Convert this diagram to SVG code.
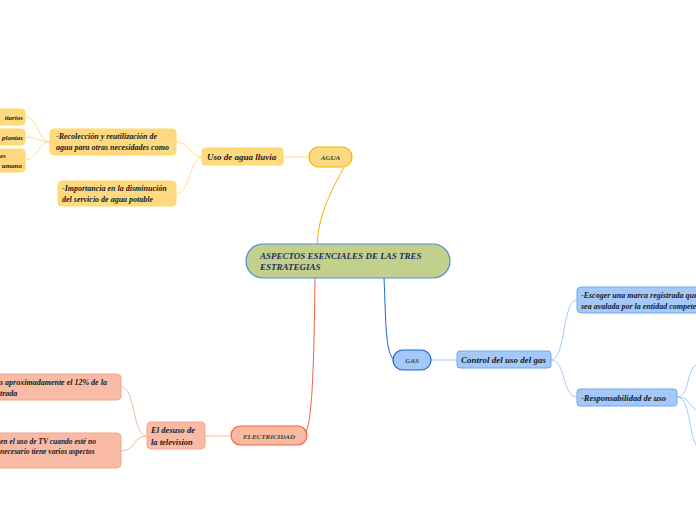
<svg xmlns="http://www.w3.org/2000/svg" width="696" height="520" viewBox="0 0 696 520">
<style>
text{font-family:"Liberation Serif","DejaVu Serif",serif;font-style:italic;font-weight:bold;font-size:8px;fill:#1a1a1a}
.lbl{fill:#1e4d2b;font-size:7px}
.c{fill:none;stroke-width:1}
.y{fill:#ffd97f;stroke:#ffd966;stroke-width:1}
.s{fill:#f9bba6;stroke:#f4a58a;stroke-width:1}
.b{fill:#a4c8f8;stroke:#6fa8f0;stroke-width:1}
</style>
<rect width="696" height="520" fill="#ffffff"/>
<g id="connectors">
<path class="c" stroke="#f5b400" stroke-width="1.3" d="M344,167 C332,190 319,212 317,244"/>
<path class="c" stroke="#f0643c" stroke-width="1.3" d="M315,278 C314,350 313,425 305,433"/>
<path class="c" stroke="#1a66d6" stroke-width="1.3" d="M384,278 C386,320 385,356 395,360"/>
<path class="c" stroke="#ffe08c" d="M309,157 L283,157"/>
<path class="c" stroke="#ffe08c" d="M202,157 C190,157 190,142 176,142"/>
<path class="c" stroke="#ffe08c" d="M202,157 C190,157 190,194 176,194"/>
<path class="c" stroke="#ffe08c" d="M50,142 C38,142 38,117 25,117"/>
<path class="c" stroke="#ffe08c" d="M50,142 C38,142 38,137 25,137"/>
<path class="c" stroke="#ffe08c" d="M50,142 C38,142 38,160 25,160"/>
<path class="c" stroke="#f9b7a0" d="M231,436 L205,436"/>
<path class="c" stroke="#f9b7a0" d="M147,436 C132,436 136,387 121,387"/>
<path class="c" stroke="#f9b7a0" d="M147,436 C132,436 136,451 121,451"/>
<path class="c" stroke="#a4c8f8" d="M431,360 L457,360"/>
<path class="c" stroke="#a4c8f8" d="M551,360 C566,360 562,300 577,300"/>
<path class="c" stroke="#a4c8f8" d="M551,360 C566,360 562,397 577,397"/>
<path class="c" stroke="#a4c8f8" d="M677,397 C690,397 686,370 696,365"/>
<path class="c" stroke="#a4c8f8" d="M677,397 C690,397 688,405 696,410"/>
<path class="c" stroke="#a4c8f8" d="M677,397 C690,397 688,430 696,445"/>
</g>
<g id="central">
<rect x="246" y="244" width="204" height="34" rx="17" fill="#c2d08c" stroke="#4f8fd6" stroke-width="1.2"/>
<text x="260" y="259" style="fill:#1f2d5c;font-size:9px">ASPECTOS ESENCIALES DE LAS TRES</text>
<text x="260" y="270" style="fill:#1f2d5c;font-size:9px">ESTRATEGIAS</text>
</g>
<g id="agua">
<rect x="309" y="147" width="43" height="20" rx="10" fill="#ffd97f" stroke="#f5b400" stroke-width="1.2"/>
<text class="lbl" x="330.5" y="160" text-anchor="middle">AGUA</text>
</g>
<g id="uso-agua">
<rect class="y" x="202" y="148" width="81" height="17" rx="3"/>
<text x="207" y="160" style="font-size:9px">Uso de agua lluvia</text>
</g>
<g id="recoleccion">
<rect class="y" x="50" y="129" width="126" height="26" rx="4"/>
<text x="56" y="139">-Recolección y reutilización de</text>
<text x="56" y="150">agua para otras necesidades como</text>
</g>
<g id="importancia">
<rect class="y" x="58" y="181" width="118" height="25" rx="4"/>
<text x="62" y="191">-Importancia en la disminución</text>
<text x="62" y="202">del servicio de agua potable</text>
</g>
<g id="sanitarios">
<rect class="y" x="-10" y="109" width="35" height="16" rx="4"/>
<text x="23" y="120" text-anchor="end" style="font-size:7px">itarios</text>
</g>
<g id="plantas">
<rect class="y" x="-10" y="129" width="35" height="16" rx="4"/>
<text x="23" y="140" text-anchor="end" style="font-size:7px">plantas</text>
</g>
<g id="humano">
<rect class="y" x="-10" y="149" width="35" height="23" rx="4"/>
<text x="0" y="158" style="font-size:7px">es</text>
<text x="22" y="168" text-anchor="end" style="font-size:7px">umano</text>
</g>
<g id="electricidad">
<rect x="231" y="426" width="76" height="19" rx="9.5" fill="#f9b9a3" stroke="#f0643c" stroke-width="1.2"/>
<text class="lbl" x="269" y="438.5" text-anchor="middle">ELECTRICIDAD</text>
</g>
<g id="desuso">
<rect class="s" x="147" y="422" width="58" height="27" rx="4"/>
<text x="151" y="433" style="font-size:8.5px">El desuso de</text>
<text x="151" y="445" style="font-size:8.5px">la television</text>
</g>
<g id="porcentaje">
<rect class="s" x="-10" y="374" width="131" height="26" rx="4"/>
<text x="0" y="385">s aproximadamente el 12% de la</text>
<text x="0" y="396">trada</text>
</g>
<g id="uso-tv">
<rect class="s" x="-10" y="433" width="131" height="35" rx="4"/>
<text x="0" y="444" style="font-size:7.5px">en el uso de TV cuando esté no</text>
<text x="0" y="454" style="font-size:7.5px">necesario tiene varios aspectos</text>
</g>
<g id="gas">
<rect x="393" y="350" width="38" height="20" rx="10" fill="#a4c8f8" stroke="#1a66d6" stroke-width="1.2"/>
<text class="lbl" x="412" y="363" text-anchor="middle">GAS</text>
</g>
<g id="control-gas">
<rect class="b" x="457" y="351" width="94" height="17" rx="3"/>
<text x="461" y="363" style="font-size:9px">Control del uso del gas</text>
</g>
<g id="escoger">
<rect class="b" x="577" y="287" width="130" height="26" rx="4"/>
<text x="581" y="298">-Escoger una marca registrada que</text>
<text x="581" y="309">sea avalada por la entidad competente</text>
</g>
<g id="responsabilidad">
<rect class="b" x="577" y="389" width="100" height="17" rx="3"/>
<text x="581" y="401" style="font-size:8.5px">-Responsabilidad de uso</text>
</g>
</svg>
